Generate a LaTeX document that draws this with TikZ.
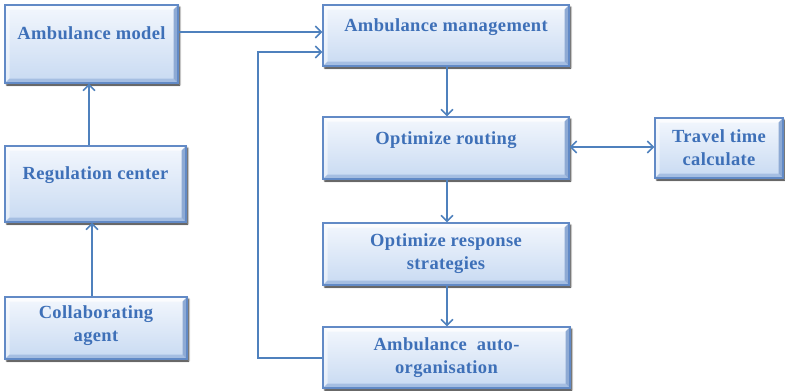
\documentclass[tikz,border=0pt]{standalone}
\usepackage{fontspec}
\setmainfont{Liberation Serif}
\usetikzlibrary{arrows.meta,calc,shadows.blur}

\definecolor{boxline}{RGB}{98,138,198}
\definecolor{wire}{RGB}{79,129,189}
\definecolor{labelblue}{RGB}{62,112,184}
\definecolor{facetop}{RGB}{243,247,253}
\definecolor{facebot}{RGB}{200,218,242}
\definecolor{bevelbot}{RGB}{165,190,226}
\definecolor{bevelright}{RGB}{142,170,212}

\tikzset{
  bevelbox/.style={
    draw=boxline, line width=1.3pt, inner sep=0pt,
    top color=facetop, bottom color=facebot,
    blur shadow={shadow xshift=1.8pt, shadow yshift=-2pt,
                 shadow blur radius=1.6pt, shadow opacity=85},
    path picture={
      \coordinate (bl) at (path picture bounding box.south west);
      \coordinate (tr) at (path picture bounding box.north east);
      \coordinate (br) at (tr |- bl);
      \coordinate (tl) at (bl |- tr);
      \coordinate (ibl) at ($(bl)+(4.5pt,4.5pt)$);
      \coordinate (itr) at ($(tr)+(-4.5pt,-4.5pt)$);
      \coordinate (ibr) at ($(br)+(-4.5pt,4.5pt)$);
      \coordinate (itl) at ($(tl)+(4.5pt,-4.5pt)$);
      \fill[white, opacity=.75] (tl) -- (tr) -- (itr) -- (itl) -- cycle;
      \fill[white, opacity=.5] (tl) -- (itl) -- (ibl) -- (bl) -- cycle;
      \fill[bevelbot] (bl) -- (ibl) -- (ibr) -- (br) -- cycle;
      \fill[bevelright] (br) -- (ibr) -- (itr) -- (tr) -- cycle;
    }},
  boxtext/.style={text=labelblue, align=center, inner sep=0pt,
    font=\bfseries\fontsize{18.5}{23}\selectfont\addfontfeatures{LetterSpace=2}},
  link/.style={draw=wire, line width=1.7pt,
    -{Straight Barb[length=6pt,width=12pt,line width=1.5pt]}},
  biglink/.style={draw=wire, line width=1.7pt,
    {Straight Barb[length=6pt,width=12pt,line width=1.5pt]}-{Straight Barb[length=6pt,width=12pt,line width=1.5pt]}}
}

% \flowbox{name}{x1}{y1}{x2}{y2}: a bevelled box between two corners
\newcommand{\flowbox}[5]{%
  \node[bevelbox, minimum width={(#4-#2)*1pt}, minimum height={(#5-#3)*1pt}]
    (#1) at ({(#2+#4)/2},{(#3+#5)/2}) {};}

\begin{document}
\begin{tikzpicture}[x=1pt,y=-1pt]
  \useasboundingbox (0,0) rectangle (785,391);

  % boxes
  \flowbox{model}{5}{5}{178}{83}
  \flowbox{reg}{5}{146}{186}{222}
  \flowbox{collab}{5}{297}{187}{359}
  \flowbox{mgmt}{323}{5}{569}{66}
  \flowbox{route}{323}{117}{569}{179}
  \flowbox{travel}{655}{118}{783}{178}
  \flowbox{resp}{323}{223}{569}{285}
  \flowbox{auto}{323}{327}{570}{388}

  % labels
  \node[boxtext] (model-t) at ($(model.center)+(0pt,11pt)$) {Ambulance model};
  \node[boxtext] (reg-t) at ($(reg.center)+(0pt,9pt)$) {Regulation center};
  \node[boxtext] (collab-t) at ($(collab.center)+(0pt,2pt)$) {Collaborating\\agent};
  \node[boxtext] (mgmt-t) at ($(mgmt.center)+(0pt,8pt)$) {Ambulance management};
  \node[boxtext] (route-t) at ($(route.center)+(0pt,8pt)$) {Optimize routing};
  \node[boxtext] (travel-t) at (travel.center) {Travel time\\calculate};
  \node[boxtext] (resp-t) at (resp.center) {Optimize response\\strategies};
  \node[boxtext] (auto-t) at (auto.center) {Ambulance\ \ auto-\\organisation};

  % connectors
  \coordinate (loopbot) at (258,358);
  \coordinate (looptop) at (258,52);
  \draw[link] (collab.north -| 92,0) -- (reg.south -| 92,0);
  \draw[link] (reg.north -| 89,0) -- (model.south -| 89,0);
  \draw[link] (model.east |- 0,32) -- (mgmt.west |- 0,32);
  \draw[link] (mgmt.south -| 447,0) -- (route.north -| 447,0);
  \draw[link] (route.south -| 447,0) -- (resp.north -| 447,0);
  \draw[link] (resp.south -| 447,0) -- (auto.north -| 447,0);
  \draw[biglink] (route.east |- 0,147) -- (travel.west |- 0,147);
  \draw[link] (auto.west |- loopbot) -- (loopbot) -- (looptop) -- (mgmt.west |- looptop);
\end{tikzpicture}
\end{document}
